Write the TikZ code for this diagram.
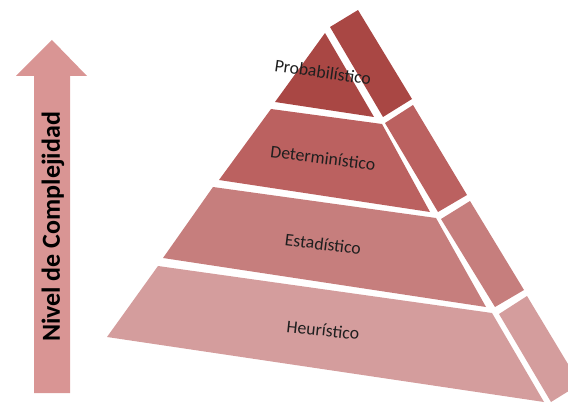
\documentclass[tikz,border=0pt]{standalone}
\usepackage{fontspec}
\setmainfont{Carlito}
\usepackage{xcolor}
\usetikzlibrary{positioning}
\definecolor{ink}{HTML}{1F1F1F}
\definecolor{arrowpink}{HTML}{D99594}
\definecolor{tierA}{HTML}{A94744}
\definecolor{tierB}{HTML}{BB6160}
\definecolor{tierC}{HTML}{C67E7D}
\definecolor{tierD}{HTML}{D49D9D}
\tikzset{
  tierlabel/.style={font=\fontsize{13.3}{15}\selectfont,text=ink,inner sep=0pt},
  axislabel/.style={font=\bfseries\fontsize{19.5}{22}\selectfont,text=black,
                    rotate=90,inner sep=0pt},
}

\begin{document}
\begin{tikzpicture}[x=0.75pt,y=-0.75pt]
  \useasboundingbox (0,0) rectangle (568,403);
  \clip (0,0) rectangle (568,403);
  % complexity arrow
  \fill[arrowpink] (34,393) -- (34,76) -- (16,76) -- (52,40) -- (87,76)
    -- (70,76) -- (70,393) -- cycle;
  \node[axislabel] (nivel) at (53,227) {Nivel de Complejidad};
  % front faces
  \foreach \col/\ax/\ay/\bx/\by/\cx/\cy/\dx/\dy in {
    tierD/158/266/492/313/544/402/107/337,
    tierC/213/187/436/218/486/307/163/258,
    tierB/271/109/382/124/430/212/219/180,
    tierA/325/33/325/33/374/117/275/102
  }{
    \fill[\col] (\ax,\ay) -- (\bx,\by) -- (\cx,\cy) -- (\dx,\dy) -- cycle;
  }
  % side faces
  \foreach \col/\ax/\ay/\bx/\by/\cx/\cy/\dx/\dy in {
    tierD/499/314/527/296/580/384/551/402,
    tierC/441/219/470/201/524/290/495/307,
    tierB/385/123/413/105/467/195/438/212,
    tierA/330/27/358/10/412/99/383/117
  }{
    \fill[\col] (\ax,\ay) -- (\bx,\by) -- (\cx,\cy) -- (\dx,\dy) -- cycle;
  }
  % labels
  \node[tierlabel,rotate=-8] (prob) at (323,72) {Probabilístico};
  \node[tierlabel,rotate=-7] (det) at (323,158) {Determinístico};
  \node[tierlabel,rotate=-7] (est) at (323,244) {Estadístico};
  \node[tierlabel,rotate=-6] (heur) at (323,330) {Heurístico};
\end{tikzpicture}
\end{document}
